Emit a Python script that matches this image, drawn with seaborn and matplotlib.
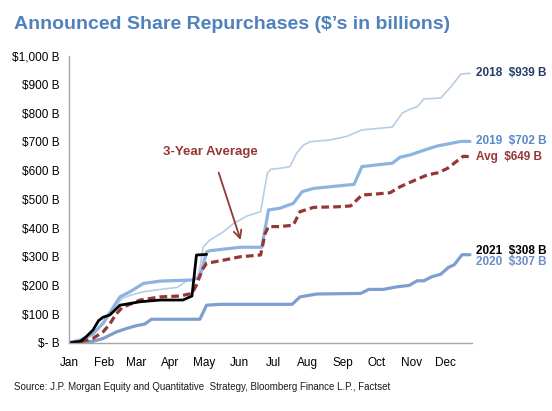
import matplotlib
matplotlib.use("Agg")
import matplotlib.pyplot as plt
import seaborn as sns
import pandas as pd

# days since Jan 1 / cumulative announced buybacks ($B)
days_2018 = [0, 10, 21, 30, 36, 47, 54, 66, 81, 96, 104, 113, 116, 119, 125, 137, 146, 158, 170,
             176, 179, 187, 196, 202, 208, 214, 232, 247, 260, 287, 296, 303, 309, 315, 330, 339, 348, 356]
vals_2018 = [0, 8, 30, 65, 100, 155, 165, 178, 186, 193, 215, 222, 260, 335, 358, 387, 416, 442, 457,
             591, 605, 608, 614, 661, 689, 701, 707, 720, 742, 752, 801, 815, 822, 850, 853, 892, 937, 939]

days_2019 = [0, 10, 21, 30, 45, 54, 66, 81, 110, 116, 122, 125, 152, 171, 177, 187, 199, 207, 217,
             232, 247, 253, 260, 273, 287, 294, 303, 318, 327, 339, 348, 356]
vals_2019 = [0, 10, 30, 68, 160, 178, 207, 215, 219, 230, 317, 321, 333, 333, 463, 469, 486, 527, 538,
             544, 550, 552, 614, 620, 626, 647, 655, 675, 686, 695, 702, 702]

days_2020 = [0, 21, 30, 42, 51, 60, 67, 73, 116, 122, 134, 198, 205, 220, 259, 266, 279, 291, 302,
             309, 315, 322, 330, 337, 342, 349, 356]
vals_2020 = [0, 5, 15, 38, 50, 60, 65, 82, 82, 131, 134, 134, 160, 170, 172, 186, 186, 195, 200,
             216, 216, 230, 239, 263, 272, 307, 307]

days_2021 = [0, 10, 15, 21, 26, 30, 36, 39, 45, 51, 63, 81, 101, 109, 113, 122]
vals_2021 = [0, 5, 21, 44, 77, 89, 97, 108, 131, 135, 143, 149, 149, 163, 306, 308]

days_avg = [0, 10, 21, 30, 36, 41, 47, 63, 81, 98, 109, 113, 118, 122, 137, 152, 170, 174, 177, 187,
            199, 205, 217, 238, 250, 260, 271, 285, 294, 309, 318, 328, 336, 345, 350, 355]
vals_avg = [0, 3, 15, 38, 65, 97, 123, 149, 160, 163, 172, 201, 254, 277, 288, 300, 306, 381, 405, 405,
            410, 457, 472, 474, 477, 515, 518, 523, 544, 570, 585, 593, 608, 635, 650, 649]

months = ["Jan", "Feb", "Mar", "Apr", "May", "Jun", "Jul", "Aug", "Sep", "Oct", "Nov", "Dec"]
month_start = [0, 31, 59, 90, 120, 151, 181, 212, 243, 273, 304, 334]
yticks = list(range(0, 1001, 100))
ylabels = ["$- B"] + [f"${v:,} B" for v in yticks[1:]]

end_labels = [("2018  $939 B", 939, "#243f6b"), ("2019  $702 B", 702, "#5b87c5"),
              ("Avg  $649 B", 649, "#953735"), ("2021  $308 B", 320, "#000000"),
              ("2020  $307 B", 280, "#6b8ec8")]

sns.set_style("white")
plt.rcParams["font.family"] = ["Liberation Sans Narrow", "Liberation Sans", "DejaVu Sans"]

fig = plt.figure(figsize=(5.52, 4.11), dpi=100)
ax = fig.add_axes([0.1255, 0.166, 0.73, 0.698])

series = [
    (days_2018, vals_2018, "#b9cde5", 1.2, "-"),
    (days_2019, vals_2019, "#8db3e2", 2.3, "-"),
    (days_2020, vals_2020, "#7f9ed0", 2.3, "-"),
    (days_avg, vals_avg, "#953735", 2.3, (0, (2.4, 1.3))),
    (days_2021, vals_2021, "#000000", 2.0, "-"),
]
for d, v, c, lw, ls in series:
    df = pd.DataFrame({"day": d, "value": v})
    sns.lineplot(data=df, x="day", y="value", ax=ax, color=c, lw=lw, linestyle=ls,
                 estimator=None, sort=False)

ax.set_xlim(0, 358)
ax.set_ylim(0, 1000)
ax.set_xticks(month_start)
ax.set_xticklabels(months, fontsize=8.5)
ax.set_yticks(yticks)
ax.set_yticklabels(ylabels, fontsize=8.5)
ax.set_xlabel("")
ax.set_ylabel("")
for s in ["top", "right"]:
    ax.spines[s].set_visible(False)
for s in ["left", "bottom"]:
    ax.spines[s].set_color("#a6a6a6")
    ax.spines[s].set_linewidth(1.0)
ax.tick_params(axis="both", length=4, width=1, color="#a6a6a6", labelcolor="#000000", pad=3)
ax.tick_params(axis="x", pad=6)

for txt, yv, c in end_labels:
    ax.text(361, yv, txt, color=c, fontsize=8.5, fontweight="bold", va="center", ha="left",
            clip_on=False)

ax.annotate("", xy=(153, 349), xytext=(132, 602),
            arrowprops=dict(arrowstyle="->", color="#953735", lw=1.3, mutation_scale=14))
ax.text(125, 665, "3-Year Average", color="#953735", fontsize=9.5, fontweight="bold",
        ha="center", va="center")

fig.text(0.025, 0.94, "Announced Share Repurchases ($\u2019s in billions)", color="#4f81bd",
         fontsize=14, fontweight="bold", va="center", ha="left")
fig.text(0.025, 0.058, "Source: J.P. Morgan Equity and Quantitative  Strategy, Bloomberg Finance L.P., Factset",
         fontsize=7, color="#1a1a1a", va="center", ha="left")

fig.savefig("out.png", dpi=100)
